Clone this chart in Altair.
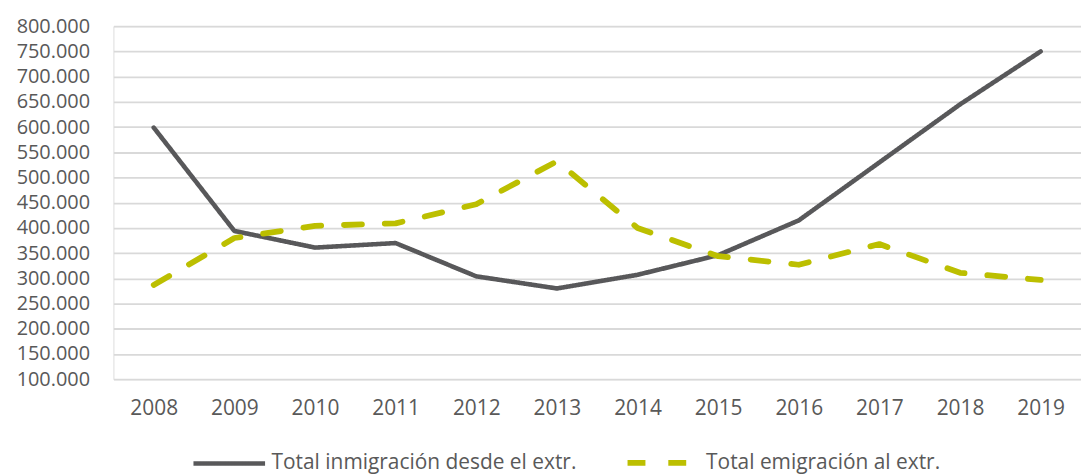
import altair as alt
import pandas as pd

years = ["2008", "2009", "2010", "2011", "2012", "2013", "2014", "2015", "2016", "2017", "2018", "2019"]
inmigracion = [599000, 394000, 361000, 370000, 304000, 280000, 307000, 346000, 415000, 530000, 645000, 750000]
emigracion = [287000, 380000, 404000, 409000, 447000, 532000, 400000, 344000, 327000, 368000, 311000, 297000]
series_names = ["Total inmigración desde el extr.", "Total emigración al extr."]
y_ticks = [100000, 150000, 200000, 250000, 300000, 350000, 400000, 450000,
           500000, 550000, 600000, 650000, 700000, 750000, 800000]

df = pd.DataFrame({
    "year": years * 2,
    "value": inmigracion + emigracion,
    "serie": [series_names[0]] * len(years) + [series_names[1]] * len(years),
})

FONT = "Open Sans"
TXT = "#595959"
FS = 21

x_enc = alt.X("year:O", sort=years,
              scale=alt.Scale(padding=0.5),
              axis=alt.Axis(title=None, labelAngle=0, ticks=False, domain=False,
                            labelPadding=18, labelFontSize=FS, labelColor=TXT, labelFont=FONT))
y_enc = alt.Y("value:Q",
              scale=alt.Scale(domain=[100000, 800000], nice=False, zero=False),
              axis=alt.Axis(title=None, values=y_ticks, ticks=False, domain=False,
                            labelExpr="replace(format(datum.value, ','), ',', '.')",
                            labelPadding=24, labelFontSize=20, labelColor=TXT, labelFont=FONT,
                            gridColor="#d9d9d9", gridWidth=1.8))
color_enc = alt.Color("serie:N", scale=alt.Scale(domain=series_names, range=["#58585A", "#BCBF00"]),
                      legend=alt.Legend(title=None, orient="none", direction="horizontal",
                                        legendX=78, legendY=400,
                                        symbolType="stroke", symbolSize=5184,
                                        labelFontSize=FS, labelColor=TXT, labelFont=FONT,
                                        labelLimit=500,
                                        columnPadding=39, labelOffset=4))
dash_enc = alt.StrokeDash("serie:N", scale=alt.Scale(domain=series_names, range=[[1, 0], [18, 23]]),
                          legend=None)
width_enc = alt.StrokeWidth("serie:N", scale=alt.Scale(domain=series_names, range=[4.6, 5.8]),
                            legend=None)

base = alt.Chart(df).mark_line(strokeCap="round", strokeJoin="round").encode(
    x=x_enc, y=y_enc, color=color_enc, strokeDash=dash_enc, strokeWidth=width_enc
)

solid = base.transform_filter(alt.datum.serie == series_names[0])
dashed = base.transform_filter(alt.datum.serie == series_names[1])

chart = alt.layer(solid, dashed).properties(
    width=973, height=355,
    autosize=alt.AutoSizeParams(type="none"),
    padding={"left": 106, "top": 17, "right": 0, "bottom": 94},
).configure_view(stroke=None).configure(font=FONT)

chart.save("out.html", embed_options={"renderer": "svg", "actions": False})
